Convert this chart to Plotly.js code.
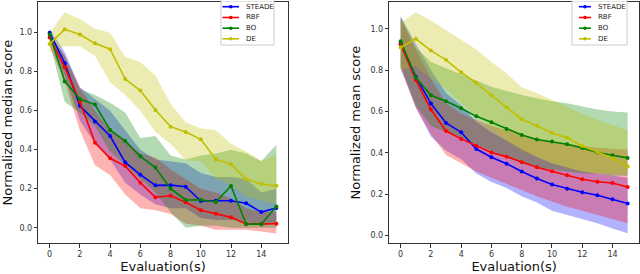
<!DOCTYPE html>
<html>
<head>
<meta charset="utf-8">
<script src="https://cdn.plot.ly/plotly-3.0.1.min.js"></script>
<style>html,body{margin:0;padding:0;background:#fff;}#chart{width:640px;height:274px;}</style>
</head>
<body>
<div id="chart"></div>
<script>
// ---------- data ----------
const evals = [0,1,2,3,4,5,6,7,8,9,10,11,12,13,14,15];
const seriesNames = ['STEADE','RBF','BO','DE'];
const seriesColors = ['#0000ff','#ff0000','#008000','#bfbf00'];
const bandColors = ['rgba(0,0,255,0.3)','rgba(255,0,0,0.3)','rgba(0,128,0,0.3)','rgba(191,191,0,0.3)'];
const xTicks = [0,2,4,6,8,10,12,14];
const yTicks = [0.0,0.2,0.4,0.6,0.8,1.0];
const yTickLabels = ['0.0','0.2','0.4','0.6','0.8','1.0'];

// left panel: median
const steadeMed = [1.0,0.843,0.625,0.545,0.47,0.335,0.272,0.217,0.218,0.21,0.137,0.138,0.138,0.125,0.08,0.101];
const rbfMed    = [0.975,0.822,0.646,0.436,0.356,0.316,0.231,0.156,0.164,0.13,0.089,0.072,0.053,0.019,0.018,0.02];
const boMed     = [0.991,0.75,0.66,0.631,0.501,0.444,0.366,0.308,0.2,0.142,0.143,0.132,0.214,0.019,0.018,0.109];
const deMed     = [0.942,1.017,0.99,0.945,0.915,0.762,0.703,0.603,0.518,0.491,0.453,0.35,0.325,0.248,0.224,0.215];

const steadeMedUp = [1.02,0.9,0.72,0.66,0.6,0.5,0.4,0.35,0.34,0.33,0.28,0.26,0.26,0.25,0.18,0.2];
const steadeMedLo = [0.97,0.78,0.55,0.43,0.35,0.23,0.17,0.12,0.1,0.1,0.05,0.04,0.04,0.03,0.01,0.02];
const rbfMedUp    = [0.99,0.88,0.72,0.6,0.5,0.45,0.38,0.36,0.3,0.25,0.2,0.18,0.15,0.1,0.08,0.08];
const rbfMedLo    = [0.93,0.75,0.5,0.32,0.27,0.17,0.1,0.09,0.07,0.02,0.01,-0.01,-0.01,-0.01,-0.02,-0.03];
const boMedUp     = [1.0,0.88,0.71,0.68,0.64,0.59,0.46,0.47,0.37,0.35,0.37,0.38,0.4,0.38,0.34,0.425];
const boMedLo     = [0.95,0.645,0.59,0.52,0.39,0.32,0.25,0.18,0.08,0.0,0.01,0.01,0.0,0.0,0.0,0.0];
const deMedUp     = [1.0,1.105,1.07,1.02,1.0,0.875,0.85,0.78,0.635,0.54,0.51,0.5,0.43,0.39,0.345,0.37];
const deMedLo     = [0.9,0.93,0.93,0.88,0.745,0.68,0.6,0.49,0.43,0.345,0.34,0.25,0.22,0.16,0.14,0.12];

// right panel: mean
const steadeMean = [0.93,0.769,0.639,0.545,0.5,0.419,0.379,0.348,0.31,0.276,0.247,0.227,0.21,0.195,0.176,0.155];
const rbfMean    = [0.925,0.753,0.61,0.506,0.468,0.435,0.402,0.382,0.355,0.331,0.311,0.292,0.273,0.261,0.255,0.235];
const boMean     = [0.94,0.765,0.679,0.65,0.616,0.577,0.548,0.516,0.487,0.465,0.455,0.442,0.424,0.402,0.389,0.376];
const deMean     = [0.91,0.952,0.895,0.85,0.79,0.739,0.679,0.621,0.563,0.531,0.497,0.473,0.434,0.405,0.374,0.334];

const steadeMeanUp = [1.06,0.93,0.8,0.69,0.63,0.55,0.5,0.46,0.42,0.38,0.35,0.33,0.31,0.3,0.29,0.28];
const steadeMeanLo = [0.81,0.62,0.48,0.41,0.37,0.3,0.26,0.23,0.19,0.16,0.12,0.1,0.08,0.06,0.035,0.012];
const rbfMeanUp    = [1.05,0.9,0.76,0.64,0.59,0.56,0.53,0.51,0.49,0.47,0.455,0.445,0.435,0.425,0.42,0.415];
const rbfMeanLo    = [0.81,0.62,0.49,0.39,0.35,0.31,0.28,0.25,0.22,0.19,0.165,0.14,0.12,0.1,0.08,0.06];
const boMeanUp     = [1.06,0.91,0.84,0.81,0.78,0.75,0.72,0.7,0.68,0.665,0.65,0.64,0.625,0.61,0.6,0.595];
const boMeanLo     = [0.82,0.63,0.53,0.5,0.47,0.44,0.41,0.38,0.35,0.33,0.32,0.31,0.3,0.3,0.29,0.29];
const deMeanUp     = [1.03,1.08,1.04,0.995,0.947,0.9,0.84,0.785,0.718,0.69,0.656,0.62,0.59,0.56,0.535,0.51];
const deMeanLo     = [0.8,0.82,0.76,0.71,0.64,0.58,0.52,0.46,0.41,0.38,0.35,0.33,0.31,0.3,0.3,0.3];

// ---------- build traces ----------
const panels = [
  {xa:'x', ya:'y', mid:[steadeMed,rbfMed,boMed,deMed],
   up:[steadeMedUp,rbfMedUp,boMedUp,deMedUp], lo:[steadeMedLo,rbfMedLo,boMedLo,deMedLo]},
  {xa:'x2', ya:'y2', mid:[steadeMean,rbfMean,boMean,deMean],
   up:[steadeMeanUp,rbfMeanUp,boMeanUp,deMeanUp], lo:[steadeMeanLo,rbfMeanLo,boMeanLo,deMeanLo]}
];
const traces = [];
panels.forEach(p => {
  for (let i=0;i<4;i++){
    traces.push({x:evals, y:p.lo[i], xaxis:p.xa, yaxis:p.ya, mode:'lines',
      line:{width:0, color:bandColors[i]}, showlegend:false, hoverinfo:'skip', type:'scatter'});
    traces.push({x:evals, y:p.up[i], xaxis:p.xa, yaxis:p.ya, mode:'lines', fill:'tonexty',
      fillcolor:bandColors[i], line:{width:0, color:bandColors[i]}, showlegend:false, hoverinfo:'skip', type:'scatter'});
  }
  for (let i=0;i<4;i++){
    traces.push({x:evals, y:p.mid[i], xaxis:p.xa, yaxis:p.ya, mode:'lines+markers', name:seriesNames[i],
      line:{width:1.6, color:seriesColors[i]}, marker:{size:4, color:seriesColors[i]}, showlegend:false, type:'scatter'});
  }
});

// ---------- layout ----------
const W = 640, H = 274;
const px = v => v / W, py = v => 1 - v / H;
const font = {family:'DejaVu Sans, sans-serif'};
function axisX(domain, anchor){
  return {domain:domain, anchor:anchor, range:[-0.75,15.75], tickvals:xTicks, ticks:'outside', ticklen:3.5,
    tickwidth:1, tickcolor:'#333', showline:true, mirror:true, linecolor:'#333', linewidth:1, showgrid:false,
    zeroline:false, tickfont:{size:8, color:'#333', family:font.family},
    title:{text:'Evaluation(s)', font:{size:13, color:'#111', family:font.family}, standoff:3}};
}
function axisY(domain, anchor, range, title){
  return {domain:domain, anchor:anchor, range:range, tickvals:yTicks, ticktext:yTickLabels, ticks:'outside', ticklen:3.5,
    tickwidth:1, tickcolor:'#333', showline:true, mirror:true, linecolor:'#333', linewidth:1, showgrid:false,
    zeroline:false, tickfont:{size:8, color:'#333', family:font.family},
    title:{text:title, font:{size:13, color:'#111', family:font.family}, standoff:6}};
}
const yDom = [(H-243.3)/H, (H-2)/H];

// manual legends (compact, matplotlib-like)
const shapes = [], annotations = [];
const legends = [
  {x0:221, x1:274, l0:222.5, l1:239, tx:244},
  {x0:572, x1:627, l0:579, l1:591, tx:596}
];
const rowY = [6.7, 17.5, 28.2, 38.8];
legends.forEach(L => {
  shapes.push({type:'rect', xref:'paper', yref:'paper', x0:px(L.x0), x1:px(L.x1), y0:py(45), y1:py(-1),
    line:{color:'#cccccc', width:1}, fillcolor:'rgba(255,255,255,0.85)', layer:'above'});
  for (let i=0;i<4;i++){
    shapes.push({type:'line', xref:'paper', yref:'paper', x0:px(L.l0), x1:px(L.l1), y0:py(rowY[i]), y1:py(rowY[i]),
      line:{color:seriesColors[i], width:1.6}, layer:'above'});
    const cx = (L.l0+L.l1)/2;
    shapes.push({type:'circle', xref:'paper', yref:'paper', x0:px(cx-1.8), x1:px(cx+1.8), y0:py(rowY[i]+1.8), y1:py(rowY[i]-1.8),
      line:{color:seriesColors[i], width:0}, fillcolor:seriesColors[i], layer:'above'});
    annotations.push({xref:'paper', yref:'paper', x:px(L.tx), y:py(rowY[i]), xanchor:'left', yanchor:'middle',
      text:seriesNames[i], showarrow:false, font:{size:7, color:'#222', family:font.family}});
  }
});

const layout = {
  width:W, height:H, margin:{l:0,r:0,t:0,b:0}, paper_bgcolor:'#fff', plot_bgcolor:'#fff',
  showlegend:false, font:font,
  xaxis: axisX([38.3/W, 287.7/W], 'y'),
  yaxis: axisY(yDom, 'x', [-0.08,1.157], 'Normalized median score'),
  xaxis2: axisX([389.3/W, 639/W], 'y2'),
  yaxis2: axisY(yDom, 'x2', [-0.037,1.13], 'Normalized mean score'),
  shapes:shapes, annotations:annotations
};
Plotly.newPlot('chart', traces, layout, {staticPlot:true, displayModeBar:false});
</script>
</body>
</html>
